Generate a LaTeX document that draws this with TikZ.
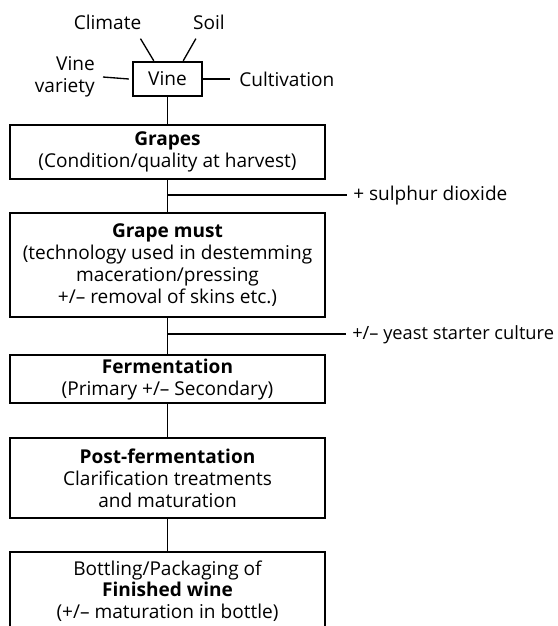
\documentclass[tikz,border=0pt]{standalone}
\usepackage{fontspec}
\setmainfont{Open Sans}
\usetikzlibrary{calc}
\begin{document}
\begin{tikzpicture}[x=0.75pt,y=-0.75pt,
  every node/.style={font=\fontsize{14.3}{16.4}\selectfont},
  box/.style={draw, line width=1.8pt, align=center, minimum width=236.25pt, inner sep=0pt, anchor=north},
  link/.style={line width=1pt},
  lab/.style={inner sep=0pt}]
\clip (0,0) rectangle (558,626);
% vine and its factors
\node[draw, line width=1.8pt, minimum width=51.75pt, minimum height=25.5pt, inner sep=0pt] (vine) at (167.5,79) {Vine};
\node[lab] (climate) at (107.5,22) {Climate};
\node[lab] (soil) at (209,22) {Soil};
\node[lab, align=right, anchor=east] (variety) at (95,77) {Vine\\variety};
\node[lab, anchor=west] (cult) at (239,79) {Cultivation};
\draw[link] ($(climate.south east)+(-1,9)$) -- ($(vine.north west)+(22,0)$);
\draw[link] ($(soil.south west)+(3,9)$) -- ($(vine.north east)+(-20,0)$);
\draw[link] ($(vine.west)+(-3,0)$) -- ($(variety.east)+(8,0)$ |- vine.west);
\draw[link] (vine.east) -- ($(cult.west)+(-9,0)$);
% process boxes
\node[box, minimum height=40.5pt] (grapes) at (167.5,124) {\textbf{Grapes}\\(Condition/quality at harvest)};
\node[box, minimum height=78pt] (must) at (167.5,212) {\textbf{Grape must}\\(technology used in destemming\\maceration/pressing\\+/– removal of skins etc.)};
\node[box, minimum height=36pt] (ferm) at (167.5,354) {\textbf{Fermentation}\\(Primary +/– Secondary)};
\node[box, minimum height=60pt] (post) at (167.5,437) {\textbf{Post-fermentation}\\Clarification treatments\\and maturation};
\node[box, minimum height=58.5pt] (bottle) at (167.5,551) {Bottling/Packaging of\\\textbf{Finished wine}\\(+/– maturation in bottle)};
% additions
\node[lab, anchor=base west] (sulph) at (353,200) {+ sulphur dioxide};
\node[lab, anchor=base west, font=\fontsize{13.7}{16}\selectfont] (yeast) at (352,339) {+/– yeast starter culture};
\coordinate (j1) at (167.5,195);
\coordinate (j2) at (167.5,334);
% connectors
\draw[link] (vine.south) -- (grapes.north);
\draw[link] (grapes.south) -- (must.north);
\draw[link] (must.south) -- (ferm.north);
\draw[link] (ferm.south) -- (post.north);
\draw[link] (post.south) -- (bottle.north);
\draw[link] (j1) -- ($(sulph.base west)+(-6,-5)$);
\draw[link] (j2) -- ($(yeast.base west)+(-6,-5)$);
\end{tikzpicture}
\end{document}
